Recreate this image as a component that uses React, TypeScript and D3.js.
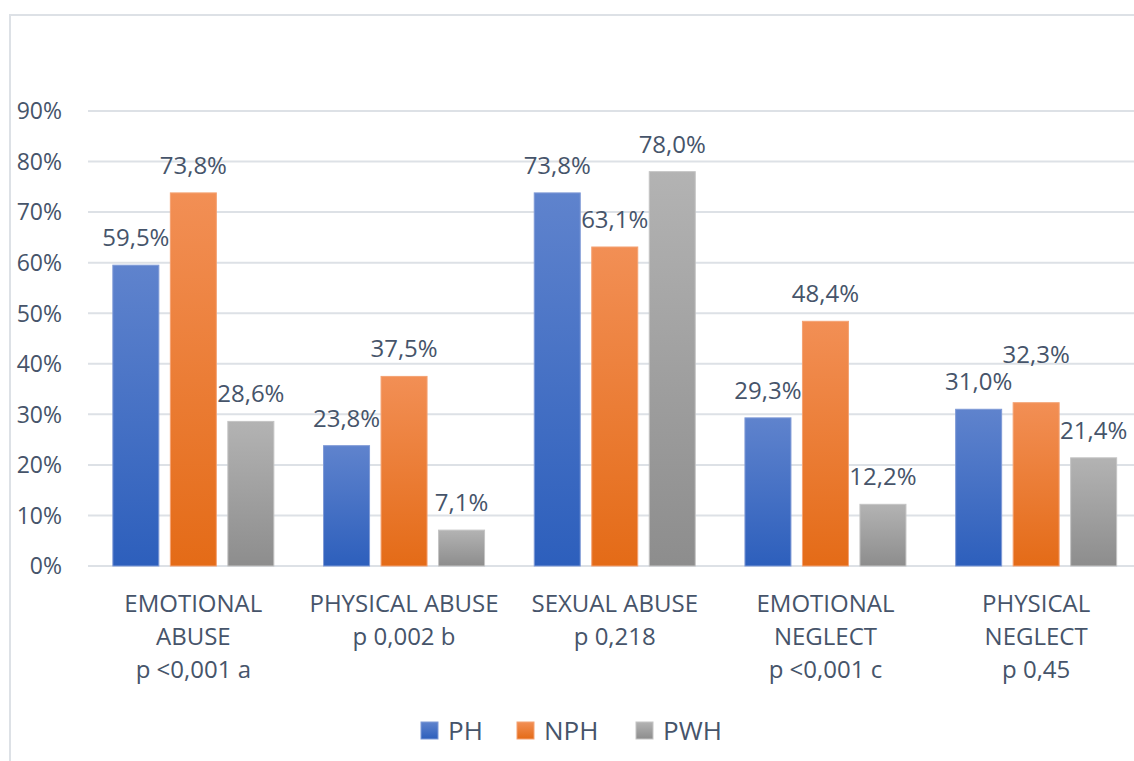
import { useEffect, useRef } from "react";
import * as d3 from "d3";

const categories = [
  ["EMOTIONAL", "ABUSE", "p <0,001 a"],
  ["PHYSICAL ABUSE", "p 0,002 b"],
  ["SEXUAL ABUSE", "p 0,218"],
  ["EMOTIONAL", "NEGLECT", "p <0,001 c"],
  ["PHYSICAL", "NEGLECT", "p 0,45"],
];
const seriesNames = ["PH", "NPH", "PWH"];
const phValues = [59.5, 23.8, 73.8, 29.3, 31.0];
const nphValues = [73.8, 37.5, 63.1, 48.4, 32.3];
const pwhValues = [28.6, 7.1, 78.0, 12.2, 21.4];
const yTicks = [0, 10, 20, 30, 40, 50, 60, 70, 80, 90];

const gradients = [
  { id: "g-ph", top: "#5f83cd", bottom: "#2d5fbc", edge: "#7f9ad6" },
  { id: "g-nph", top: "#f28f55", bottom: "#e46b17", edge: "#f4a273" },
  { id: "g-pwh", top: "#b3b3b3", bottom: "#8d8d8d", edge: "#c4c4c4" },
];

const textColor = "#46546a";
const gridColor = "#dde1e6";
const font = "'Open Sans', 'Noto Sans', sans-serif";

function App() {
  const svgRef = useRef<SVGSVGElement>(null);

  useEffect(() => {
    const svgElement = svgRef.current;
    if (!svgElement) return;

    const width = 1134;
    const height = 761;
    const svg = d3.select(svgElement).attr("width", width).attr("height", height);

    const defs = svg.append("defs");
    gradients.forEach((g) => {
      const lg = defs
        .append("linearGradient")
        .attr("id", g.id)
        .attr("x1", 0)
        .attr("y1", 0)
        .attr("x2", 0)
        .attr("y2", 1);
      lg.append("stop").attr("offset", "0%").attr("stop-color", g.top);
      lg.append("stop").attr("offset", "100%").attr("stop-color", g.bottom);
    });

    // outer chart border (cropped on right and bottom)
    svg
      .append("rect")
      .attr("x", 10)
      .attr("y", 15)
      .attr("width", 1300)
      .attr("height", 900)
      .attr("fill", "none")
      .attr("stroke", gridColor)
      .attr("stroke-width", 2);

    const left = 88;
    const step = 210.7;
    const x0 = d3
      .scaleBand()
      .domain(categories.map((_, i) => String(i)))
      .range([left, left + step * categories.length]);
    const x1 = d3
      .scaleBand()
      .domain(seriesNames)
      .range([0, x0.bandwidth()])
      .paddingInner(0.2)
      .paddingOuter(0.432);
    const y = d3.scaleLinear().domain([0, 90]).range([566, 111]);

    // grid
    svg
      .append("g")
      .selectAll("line")
      .data(yTicks)
      .enter()
      .append("line")
      .attr("x1", left)
      .attr("x2", width)
      .attr("y1", (d) => y(d))
      .attr("y2", (d) => y(d))
      .attr("stroke", gridColor)
      .attr("stroke-width", 2);

    svg
      .append("g")
      .selectAll("text")
      .data(yTicks)
      .enter()
      .append("text")
      .attr("x", 62)
      .attr("y", (d) => y(d))
      .attr("dy", "0.36em")
      .attr("text-anchor", "end")
      .style("font-family", font)
      .style("font-size", "23px")
      .style("fill", textColor)
      .text((d) => `${d}%`);

    const allSeries = [phValues, nphValues, pwhValues];
    const groups = svg
      .append("g")
      .selectAll("g")
      .data(categories.map((_, i) => i))
      .enter()
      .append("g")
      .attr("transform", (i) => `translate(${x0(String(i))},0)`);

    seriesNames.forEach((name, si) => {
      groups
        .append("rect")
        .attr("x", () => x1(name) || 0)
        .attr("y", (i) => y(allSeries[si][i]))
        .attr("width", x1.bandwidth())
        .attr("height", (i) => y(0) - y(allSeries[si][i]))
        .attr("fill", `url(#${gradients[si].id})`)
        .attr("stroke", gradients[si].edge)
        .attr("stroke-width", 1);
    });

    // data labels, nudged up when they collide with the neighbour
    groups.each(function (i) {
      const g = d3.select(this);
      let prev: { y: number; left: number; right: number } | null = null;
      seriesNames.forEach((name, si) => {
        const v = allSeries[si][i];
        const cx = (x1(name) || 0) + x1.bandwidth() / 2;
        const t = g
          .append("text")
          .attr("x", cx)
          .attr("text-anchor", "middle")
          .style("font-family", font)
          .style("font-size", "24px")
          .style("fill", textColor)
          .text(`${v.toFixed(1).replace(".", ",")}%`);
        const w = (t.node() as SVGTextElement).getComputedTextLength();
        let ly = y(v) - 19;
        if (prev && prev.right > cx - w / 2 && Math.abs(prev.y - ly) < 27 && ly <= prev.y) {
          ly = prev.y - 27;
        }
        t.attr("y", ly);
        prev = { y: ly, left: cx - w / 2, right: cx + w / 2 };
      });
    });

    // category labels
    groups.each(function (i) {
      const t = d3
        .select(this)
        .append("text")
        .attr("text-anchor", "middle")
        .style("font-family", font)
        .style("font-size", "24px")
        .style("fill", textColor);
      categories[i].forEach((line, li) => {
        t.append("tspan")
          .attr("x", x0.bandwidth() / 2)
          .attr("y", 612 + li * 33)
          .text(line);
      });
    });

    // legend
    const legendX = [421, 517, 636];
    const legend = svg
      .append("g")
      .selectAll("g")
      .data(seriesNames)
      .enter()
      .append("g")
      .attr("transform", (_, i) => `translate(${legendX[i]},722)`);
    legend
      .append("rect")
      .attr("width", 17)
      .attr("height", 17)
      .attr("fill", (_, i) => `url(#${gradients[i].id})`)
      .attr("stroke", (_, i) => gradients[i].edge)
      .attr("stroke-width", 1);
    legend
      .append("text")
      .attr("x", 27)
      .attr("y", 18)
      .style("font-family", font)
      .style("font-size", "26px")
      .style("fill", textColor)
      .text((d) => d);

    return () => {
      d3.select(svgElement).selectAll("*").remove();
    };
  }, []);

  return (
    <svg
      ref={svgRef}
      style={{ position: "absolute", left: 0, top: 0, background: "#fff" }}
    ></svg>
  );
}

export default App;
